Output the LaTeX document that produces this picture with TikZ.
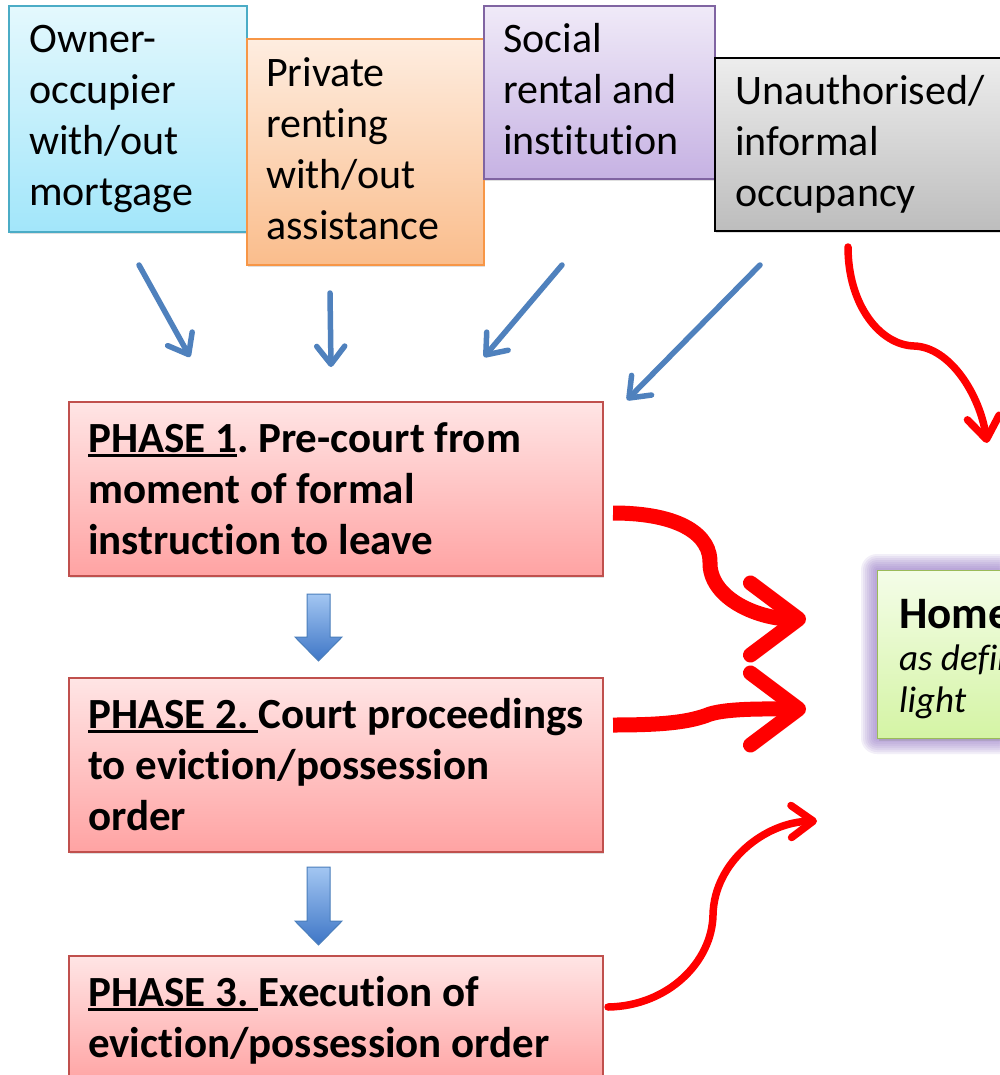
\documentclass[tikz,border=0pt]{standalone}
\usepackage{fontspec}
\setmainfont{Carlito}[Ligatures={NoCommon}]
\usetikzlibrary{arrows.meta,shadows,calc}
\definecolor{ownline}{HTML}{4BACC6}
\definecolor{owntop}{HTML}{E4F8FD}
\definecolor{ownbot}{HTML}{A2E6FA}
\definecolor{privline}{HTML}{F79646}
\definecolor{privtop}{HTML}{FEEDE0}
\definecolor{privbot}{HTML}{FABD8C}
\definecolor{socline}{HTML}{8064A2}
\definecolor{soctop}{HTML}{F0EAF8}
\definecolor{socbot}{HTML}{C6B2E3}
\definecolor{unatop}{HTML}{EDEDED}
\definecolor{unabot}{HTML}{BDBDBD}
\definecolor{phline}{HTML}{C0504D}
\definecolor{phtop}{HTML}{FFE5E5}
\definecolor{phbot}{HTML}{FFA3A3}
\definecolor{homeline}{HTML}{9BBB59}
\definecolor{hometop}{HTML}{F4FDE8}
\definecolor{homebot}{HTML}{D4F4A4}
\definecolor{glowc}{HTML}{9A7CC8}
\definecolor{arrblue}{HTML}{4F81BD}
\definecolor{blkline}{HTML}{4A7EBB}
\definecolor{blktop}{HTML}{A3C6F2}
\definecolor{blkbot}{HTML}{3E76C6}
\definecolor{redarr}{HTML}{FF0000}
\newcommand\myul[1]{\setbox0=\hbox{#1}\rlap{\rule[-4.5pt]{\wd0}{2.6pt}}\box0}
\newcommand\fixsp{\spaceskip=\fontdimen2\font\relax\xspaceskip=\fontdimen2\font\relax}
\tikzset{
  box/.style={shape=rectangle, draw, line width=1.6pt, anchor=north west, inner sep=0pt,
    drop shadow={shadow xshift=1.5pt, shadow yshift=-2.5pt, opacity=0.25}},
  ownbox/.style={box, draw=ownline, top color=owntop, bottom color=ownbot},
  privbox/.style={box, draw=privline, top color=privtop, bottom color=privbot},
  socbox/.style={box, draw=socline, top color=soctop, bottom color=socbot},
  unabox/.style={box, draw=black, top color=unatop, bottom color=unabot},
  phbox/.style={box, draw=phline, top color=phtop, bottom color=phbot, minimum width=534pt},
  homebox/.style={box, draw=homeline, line width=1.4pt, top color=hometop, bottom color=homebot, drop shadow={opacity=0}},
  toptxt/.style={anchor=base west, inner sep=0pt, text width=300pt, align=left, font=\fontsize{42}{51}\selectfont},
  phtxt/.style={anchor=base west, inner sep=0pt, text width=520pt, align=left, font=\fontsize{43}{51}\selectfont\bfseries},
  hometxt/.style={anchor=base west, inner sep=0pt, text width=400pt, align=left, font=\fontsize{37}{42}\selectfont},
  bluearrow/.style={draw=arrblue, line width=5.5pt, line cap=round, -{Straight Barb[length=18pt,width=28pt,round]}},
  redthin/.style={draw=redarr, line width=7.5pt, line cap=round, -{Straight Barb[length=22pt,width=32pt,round]}},
  redthick/.style={draw=redarr, line width=15pt, -{Straight Barb[length=48pt,width=72pt,round]}},
  blockarrow/.style={draw=blkline, line width=1pt, top color=blktop, bottom color=blkbot}
}
\begin{document}
\begin{tikzpicture}[x=1pt,y=-1pt]
\useasboundingbox (0,0) rectangle (999,1075);
\fill[white] (0,0) rectangle (999,1075);

% tenure boxes
\node[ownbox, minimum width=238pt, minimum height=226pt] (b1) at (8,5) {};
\node[privbox, minimum width=237pt, minimum height=226pt] (b2) at (246,38) {};
\node[socbox, minimum width=231pt, minimum height=173pt] (b3) at (483,5) {};
\node[unabox, minimum width=300pt, minimum height=173pt] (b4) at (714,57) {};
\node[toptxt] (b1t) at (29,53) {\fixsp Owner-\\occupier\\with/out\\mortgage};
\node[toptxt] (b2t) at (266,87) {\fixsp Private\\renting\\with/out\\assistance};
\node[toptxt] (b3t) at (503,53) {\fixsp Social\\rental and\\institution};
\node[toptxt] (b4t) at (735,105) {\fixsp Unauthorised/\\informal\\occupancy};

% phase boxes
\node[phbox, minimum height=174pt] (p1) at (68,401) {};
\node[phbox, minimum height=174pt] (p2) at (68,677) {};
\node[phbox, minimum height=128pt] (p3) at (68,955) {};
\node[phtxt] (p1t) at (88,452) {\fixsp\myul{PHASE 1}. Pre-court from\\moment of formal\\instruction to leave};
\node[phtxt] (p2t) at (88,728) {\fixsp\myul{PHASE 2.\ }Court proceedings\\to eviction/possession\\order};
\node[phtxt] (p3t) at (88,1006) {\fixsp\myul{PHASE 3.\ }Execution of\\eviction/possession order};

% homelessness box with glow
\foreach \r in {2,4,...,16} {
  \fill[glowc, opacity=0.12, rounded corners=\r pt] ({877-\r},{570-\r}) rectangle ({1040+\r},{738+\r});
}
\node[homebox, minimum width=163pt, minimum height=168pt] (home) at (877,570) {};
\node[hometxt] (homet) at (899,628) {\fixsp{\fontsize{45}{42}\selectfont\bfseries Homelessness}\\\itshape as defined by ETHOS\\light};

% block arrows between phases
\path[blockarrow] (307,594) -- (330,594) -- (330,637) -- (342,637) -- (318.5,661) -- (295,637) -- (307,637) -- cycle;
\path[blockarrow] (307,867) -- (330,867) -- (330,921) -- (342,921) -- (318.5,945) -- (295,921) -- (307,921) -- cycle;

% thin blue arrows from tenure boxes to phase 1
\coordinate (a1s) at (139,265); \coordinate (a1e) at (190,357);
\coordinate (a2s) at (330,293); \coordinate (a2e) at (331,367);
\coordinate (a3s) at (562,265); \coordinate (a3e) at (484,357);
\coordinate (a4s) at (760,265); \coordinate (a4e) at (627,400);
\draw[bluearrow] (a1s) -- (a1e);
\draw[bluearrow] (a2s) -- (a2e);
\draw[bluearrow] (a3s) -- (a3e);
\draw[bluearrow] (a4s) -- (a4e);

% red arrows to homelessness
\coordinate (r1s) at (848,247); \coordinate (r1e) at (987,443);
\draw[redthin] (r1s) .. controls (848,305) and (880,345) .. (914,346) .. controls (950,347) and (980,395) .. (r1e);
\coordinate (r2s) at (613,513); \coordinate (r2e) at (806,619);
\draw[redthick] (r2s) .. controls (680,513) and (712,535) .. (710,565) .. controls (712,600) and (760,619) .. (r2e);
\coordinate (r3s) at (613,725); \coordinate (r3e) at (806,709);
\draw[redthick] (r3s) .. controls (665,725) and (690,722) .. (710,714) .. controls (730,708) and (770,709) .. (r3e);
\coordinate (r4s) at (608,1007); \coordinate (r4e) at (817,821);
\draw[redthin] (r4s) .. controls (668,1006) and (712,962) .. (713,915) .. controls (714,862) and (765,822) .. (r4e);
\end{tikzpicture}
\end{document}
